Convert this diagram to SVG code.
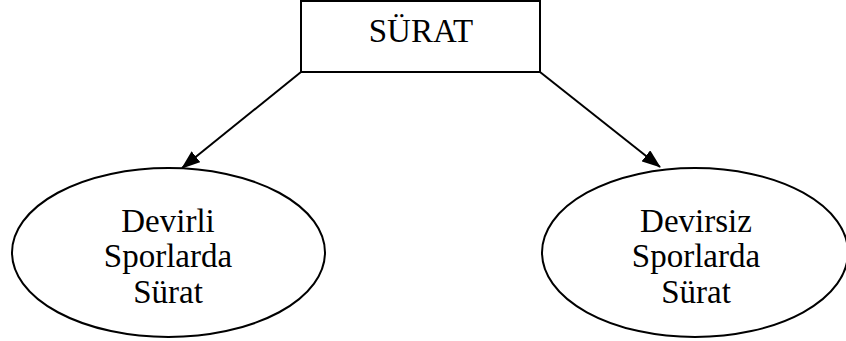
<svg xmlns="http://www.w3.org/2000/svg" width="846" height="341" viewBox="0 0 846 341">
<style>
.s{fill:#fff;stroke:#000;stroke-width:2}
.t{font-family:"Liberation Serif","Times New Roman",serif;font-size:33px;fill:#000;text-anchor:middle}
.c{stroke:#000;stroke-width:2;fill:none}
</style>
<defs>
<marker id="ah" markerWidth="19" markerHeight="14" refX="18" refY="7" orient="auto" markerUnits="userSpaceOnUse">
<path d="M0,0 L19,7 L0,14 Z" fill="#000"/>
</marker>
</defs>
<rect width="846" height="341" fill="#fff"/>
<g id="connectors">
<line class="c" x1="301" y1="72" x2="182" y2="168" marker-end="url(#ah)"/>
<line class="c" x1="540" y1="72" x2="660" y2="167" marker-end="url(#ah)"/>
</g>
<g id="surat">
<rect class="s" x="301" y="1" width="239" height="71"/>
<text class="t" x="421" y="42">SÜRAT</text>
</g>
<g id="devirli">
<ellipse class="s" cx="168.5" cy="252.5" rx="156.5" ry="84.5"/>
<text class="t" x="168" y="232">Devirli</text>
<text class="t" x="168" y="267">Sporlarda</text>
<text class="t" x="168" y="303">Sürat</text>
</g>
<g id="devirsiz">
<ellipse class="s" cx="695" cy="252.5" rx="153" ry="84.5"/>
<text class="t" x="696" y="232">Devirsiz</text>
<text class="t" x="696" y="267">Sporlarda</text>
<text class="t" x="696" y="303">Sürat</text>
</g>
</svg>
